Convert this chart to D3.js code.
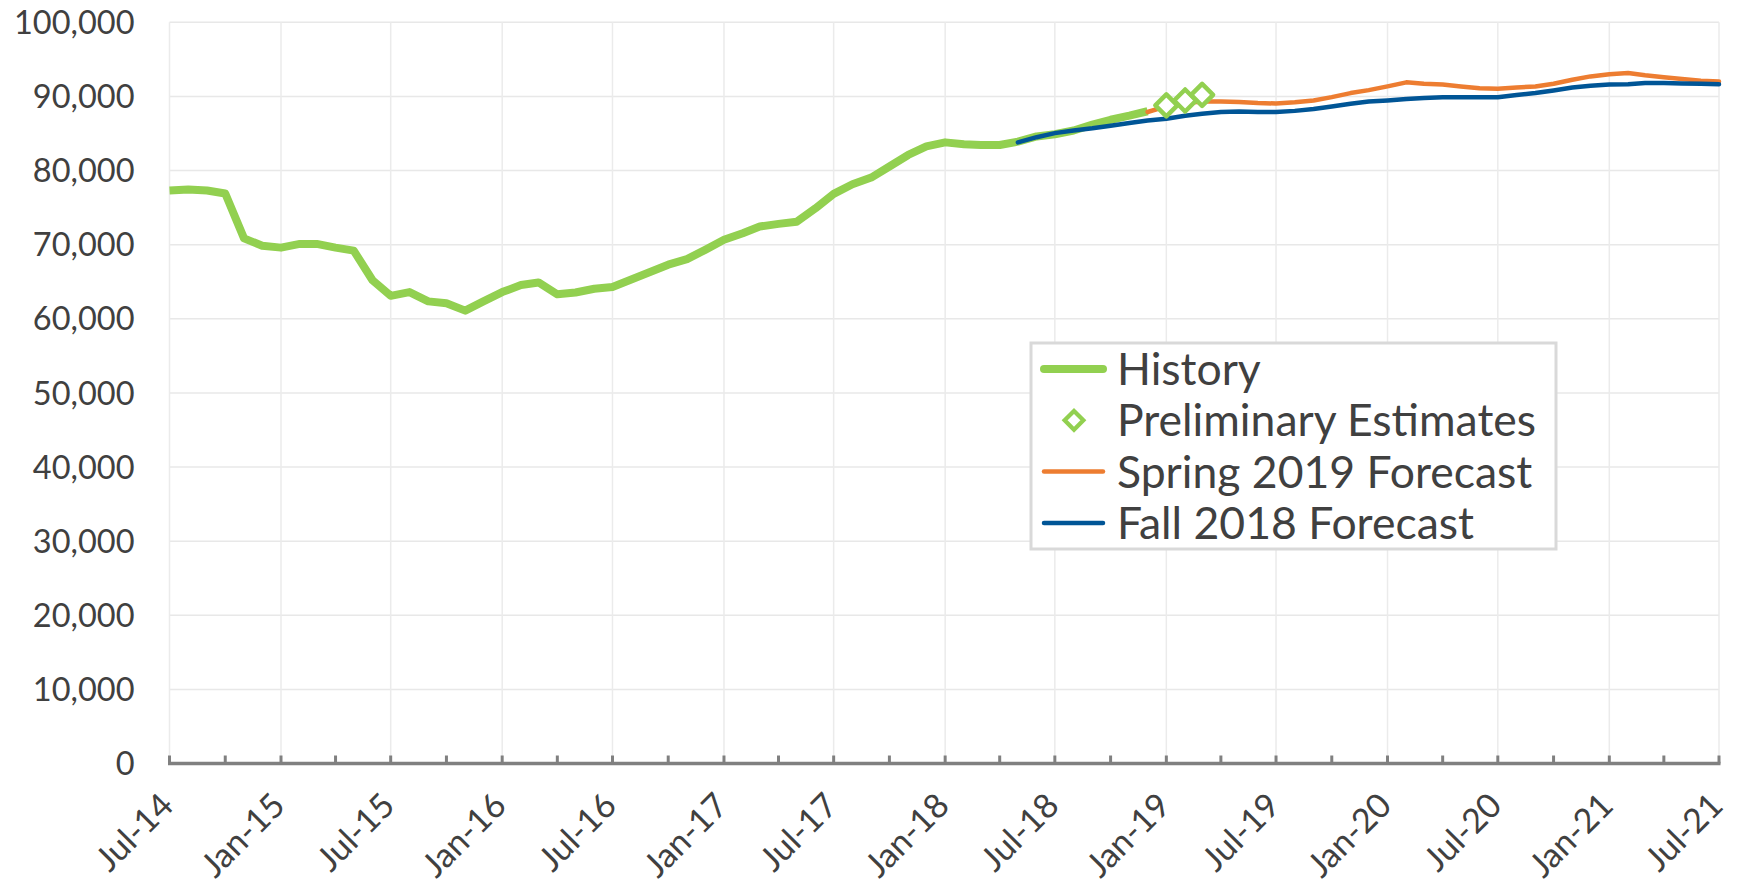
<!DOCTYPE html>
<html>
<head>
<meta charset="utf-8">
<script src="https://cdn.jsdelivr.net/npm/d3@7"></script>
<style>
  html, body { margin: 0; padding: 0; background: #fff; }
  svg { display: block; font-family: Lato, "Open Sans", sans-serif; }
</style>
</head>
<body>
<svg id="chart" width="1737" height="885"></svg>
<script>
// monthly series, first month given by the *Start value
var historyStart = "Jul-14";
var historyValues = [
  77300, 77450, 77300, 76900, 70850, 69850,
  69600, 70100, 70100, 69600, 69200, 65200,
  63100, 63600, 62350, 62100, 61100, 62350,
  63600, 64550, 64900, 63300, 63550, 64050,
  64300, 65300, 66300, 67300, 68050, 69300,
  70650, 71550, 72450, 72800, 73100, 74900,
  76850, 78150, 79050, 80550, 82100, 83250,
  83800, 83550, 83450, 83450, 83900, 84600,
  84900, 85400, 86200, 86850, 87400, 88000
];

var prelimMonths = ["Jan-19", "Feb-19", "Mar-19"];
var prelimValues = [88800, 89450, 90200];

var springStart = "Dec-18";
var springValues = [
  87900,
  88650, 89100, 89300, 89300, 89250, 89100, 89050, 89200, 89450, 89900, 90450, 90850,
  91350, 91900, 91700, 91600, 91350, 91100, 91050, 91200, 91350, 91700, 92250, 92700,
  93000, 93150, 92850, 92600, 92350, 92100, 92000
];

var fallStart = "May-18";
var fallValues = [
  83800, 84500, 85050, 85400, 85700, 86050, 86400, 86750,
  87000, 87400, 87650, 87900, 87950, 87900, 87900, 88050, 88300, 88650, 89000, 89300,
  89450, 89650, 89800, 89900, 89900, 89900, 89900, 90200, 90450, 90800, 91200, 91450,
  91600, 91650, 91800, 91800, 91750, 91700, 91650
];

var xTickLabels = ["Jul-14", "Jan-15", "Jul-15", "Jan-16", "Jul-16", "Jan-17", "Jul-17", "Jan-18",
  "Jul-18", "Jan-19", "Jul-19", "Jan-20", "Jul-20", "Jan-21", "Jul-21"];
var yTicks = [0, 10000, 20000, 30000, 40000, 50000, 60000, 70000, 80000, 90000, 100000];

var legendLabels = ["History", "Preliminary Estimates", "Spring 2019 Forecast", "Fall 2018 Forecast"];

var green = "#92d050", orange = "#ed7d31", blue = "#005596", textColor = "#404040";

var parse = d3.timeParse("%b-%y");

function toSeries(start, values) {
  var d0 = parse(start);
  return values.map(function(v, i) { return { date: d3.timeMonth.offset(d0, i), value: v }; });
}

var historySeries = toSeries(historyStart, historyValues);
var springSeries = toSeries(springStart, springValues);
var fallSeries = toSeries(fallStart, fallValues);
var prelimSeries = prelimMonths.map(function(m, i) { return { date: parse(m), value: prelimValues[i] }; });

var svg = d3.select("#chart");
var margin = { top: 22.3, right: 18, bottom: 121.5, left: 169.5 };
var width = 1737 - margin.left - margin.right;
var height = 885 - margin.top - margin.bottom;

var g = svg.append("g").attr("transform", "translate(" + margin.left + "," + margin.top + ")");

var x = d3.scaleTime()
  .domain([parse(xTickLabels[0]), parse(xTickLabels[xTickLabels.length - 1])])
  .range([0, width]);
var y = d3.scaleLinear().domain([0, 100000]).range([height, 0]);

// gridlines
g.append("g")
  .selectAll("line")
  .data(yTicks.slice(1))
  .enter().append("line")
    .attr("x1", 0).attr("x2", width)
    .attr("y1", function(d) { return y(d); })
    .attr("y2", function(d) { return y(d); })
    .attr("stroke", "#e8e8e8")
    .attr("stroke-width", 1.5);

g.append("g")
  .selectAll("line")
  .data(xTickLabels)
  .enter().append("line")
    .attr("x1", function(d) { return x(parse(d)); })
    .attr("x2", function(d) { return x(parse(d)); })
    .attr("y1", 0).attr("y2", height)
    .attr("stroke", "#ebebeb")
    .attr("stroke-width", 1.5);

// y labels
g.append("g")
  .selectAll("text")
  .data(yTicks)
  .enter().append("text")
    .attr("x", -35)
    .attr("y", function(d) { return y(d); })
    .attr("dy", "0.36em")
    .attr("text-anchor", "end")
    .attr("fill", textColor)
    .style("font-size", "32.5px")
    .text(function(d) { return d3.format(",")(d); });

// x axis
var tickDates = d3.timeMonth.every(3).range(x.domain()[0], d3.timeMonth.offset(x.domain()[1], 1));
g.append("g")
  .selectAll("line")
  .data(tickDates)
  .enter().append("line")
    .attr("x1", function(d) { return x(d); })
    .attr("x2", function(d) { return x(d); })
    .attr("y1", height - 8).attr("y2", height)
    .attr("stroke", "#808080")
    .attr("stroke-width", 3);

g.append("line")
  .attr("x1", -1.5).attr("x2", width + 1.5)
  .attr("y1", height).attr("y2", height)
  .attr("stroke", "#808080")
  .attr("stroke-width", 3.5);

g.append("g")
  .selectAll("text")
  .data(xTickLabels)
  .enter().append("text")
    .attr("transform", function(d) { return "translate(" + (x(parse(d)) + 6) + "," + (height + 44) + ") rotate(-45)"; })
    .attr("text-anchor", "end")
    .attr("fill", textColor)
    .style("font-size", "34px")
    .text(function(d) { return d; });

// lines
var line = d3.line()
  .x(function(d) { return x(d.date); })
  .y(function(d) { return y(d.value); });

g.append("path")
  .datum(historySeries)
  .attr("d", line)
  .attr("fill", "none")
  .attr("stroke", green)
  .attr("stroke-width", 8)
  .attr("stroke-linejoin", "round");

g.append("path")
  .datum(springSeries)
  .attr("d", line)
  .attr("fill", "none")
  .attr("stroke", orange)
  .attr("stroke-width", 4.5)
  .attr("stroke-linejoin", "round")
  .attr("stroke-linecap", "round");

g.append("path")
  .datum(fallSeries)
  .attr("d", line)
  .attr("fill", "none")
  .attr("stroke", blue)
  .attr("stroke-width", 4.5)
  .attr("stroke-linejoin", "round")
  .attr("stroke-linecap", "round");

var diamond = "M0,-11 L11,0 L0,11 L-11,0 Z";
g.append("g")
  .selectAll("path")
  .data(prelimSeries)
  .enter().append("path")
    .attr("transform", function(d) { return "translate(" + x(d.date) + "," + y(d.value) + ")"; })
    .attr("d", diamond)
    .attr("fill", "#fff")
    .attr("stroke", green)
    .attr("stroke-width", 4.5)
    .attr("stroke-linejoin", "round");

// legend
var legend = svg.append("g").attr("transform", "translate(1031,343)");
legend.append("rect")
  .attr("width", 525).attr("height", 206)
  .attr("fill", "#fff")
  .attr("stroke", "#d9d9d9")
  .attr("stroke-width", 3);

var rows = legend.selectAll("g.row")
  .data(legendLabels)
  .enter().append("g")
    .attr("class", "row")
    .attr("transform", function(d, i) { return "translate(0," + (26 + i * 51.3) + ")"; });

rows.append("text")
  .attr("x", 86)
  .attr("dy", "0.36em")
  .attr("fill", textColor)
  .style("font-size", "44.5px")
  .text(function(d) { return d; });

rows.filter(function(d, i) { return i != 1; }).append("line")
  .attr("x1", 13).attr("x2", 72)
  .attr("stroke", function(d, i) { return [green, orange, blue][i]; })
  .attr("stroke-width", function(d, i) { return i == 0 ? 8 : 4.5; })
  .attr("stroke-linecap", "round");

rows.filter(function(d, i) { return i == 1; }).append("path")
  .attr("transform", "translate(43,0) scale(0.85)")
  .attr("d", diamond)
  .attr("fill", "#fff")
  .attr("stroke", green)
  .attr("stroke-width", 5);
</script>
</body>
</html>
